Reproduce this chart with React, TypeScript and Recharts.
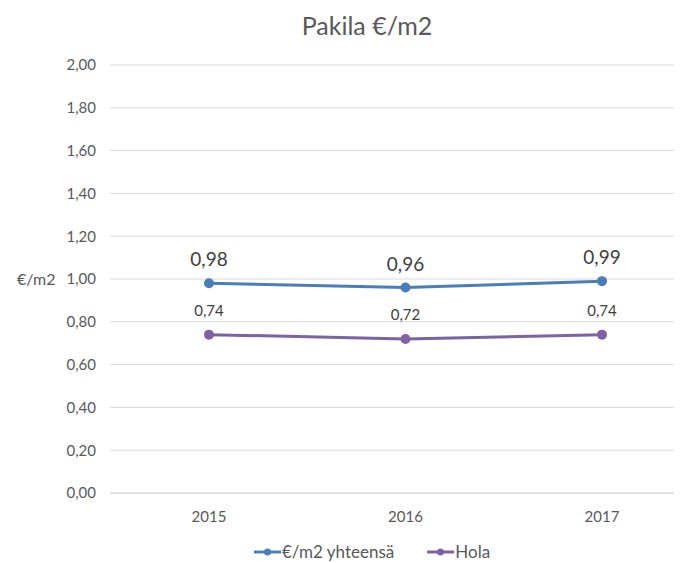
import { LineChart, Line, XAxis, YAxis, CartesianGrid, Legend, LabelList } from 'recharts';

const years = ['2015', '2016', '2017'];
const totalValues = [0.98, 0.96, 0.99];
const holaValues = [0.74, 0.72, 0.74];
const yTicks = [0, 0.2, 0.4, 0.6, 0.8, 1.0, 1.2, 1.4, 1.6, 1.8, 2.0];

const BLUE = '#4a7ebb';
const PURPLE = '#7f62a4';
const TEXT = '#595959';
const FONT = 'Lato, "Open Sans", sans-serif';

const data = years.map((y, i) => ({ year: y, total: totalValues[i], hola: holaValues[i] }));

const fmt = (v: number) => v.toFixed(2).replace('.', ',');

function LegendContent() {
  const items = [
    { name: '€/m2 yhteensä', color: BLUE },
    { name: 'Hola', color: PURPLE },
  ];
  return (
    <div style={{
      display: 'flex', justifyContent: 'flex-start', gap: 33, paddingLeft: 254,
      fontFamily: FONT, fontSize: 17, lineHeight: '18px', color: TEXT,
    }}>
      {items.map(it => (
        <span key={it.name} style={{ display: 'flex', alignItems: 'center' }}>
          <svg width={27} height={10} style={{ marginRight: 1 }}>
            <line x1={0} y1={5} x2={27} y2={5} stroke={it.color} strokeWidth={3} />
            <circle cx={13.5} cy={5} r={3.5} fill={it.color} />
          </svg>
          {it.name}
        </span>
      ))}
    </div>
  );
}

export default function App() {
  return (
    <div style={{ position: 'relative', marginLeft: -8, marginTop: -8, width: 682, height: 563, background: '#fff' }}>
      <div style={{
        position: 'absolute', left: 167, width: 400, top: 10, textAlign: 'center',
        fontFamily: FONT, fontSize: 25, color: TEXT,
      }}>
        Pakila €/m2
      </div>
      <LineChart width={682} height={563} data={data} margin={{ top: 65, right: 0, left: 0, bottom: 20 }}>
        <CartesianGrid vertical={false} stroke="#d9d9d9" />
        <XAxis
          dataKey="year"
          axisLine={{ stroke: '#d9d9d9' }}
          tickLine={false}
          tickMargin={12}
          height={30}
          padding={{ left: 99, right: 80 }}
          tick={{ fill: TEXT, fontSize: 15, fontFamily: FONT }}
        />
        <YAxis
          domain={[0, 2]}
          ticks={yTicks}
          tickFormatter={fmt}
          axisLine={false}
          tickLine={false}
          tickMargin={8}
          width={110}
          tick={{ fill: TEXT, fontSize: 15, fontFamily: FONT }}
          label={{ value: '€/m2', position: 'insideLeft', offset: 17, fill: TEXT, fontSize: 16, fontFamily: FONT }}
        />
        <Legend
          verticalAlign="bottom" content={<LegendContent />}
          wrapperStyle={{ left: 0, width: 682, top: 543, bottom: 'auto', height: 20 }}
        />
        <Line
          dataKey="total" name="€/m2 yhteensä" stroke={BLUE} strokeWidth={3}
          dot={{ r: 5, fill: BLUE, stroke: BLUE, strokeWidth: 0 }} isAnimationActive={false}
        >
          <LabelList dataKey="total" position="top" offset={17} formatter={(v: any) => fmt(Number(v))}
            style={{ fill: '#404040', fontSize: 19, fontFamily: FONT }} />
        </Line>
        <Line
          dataKey="hola" name="Hola" stroke={PURPLE} strokeWidth={3}
          dot={{ r: 5, fill: PURPLE, stroke: PURPLE, strokeWidth: 0 }} isAnimationActive={false}
        >
          <LabelList dataKey="hola" position="top" offset={19} formatter={(v: any) => fmt(Number(v))}
            style={{ fill: '#404040', fontSize: 15, fontFamily: FONT }} />
        </Line>
      </LineChart>
    </div>
  );
}
